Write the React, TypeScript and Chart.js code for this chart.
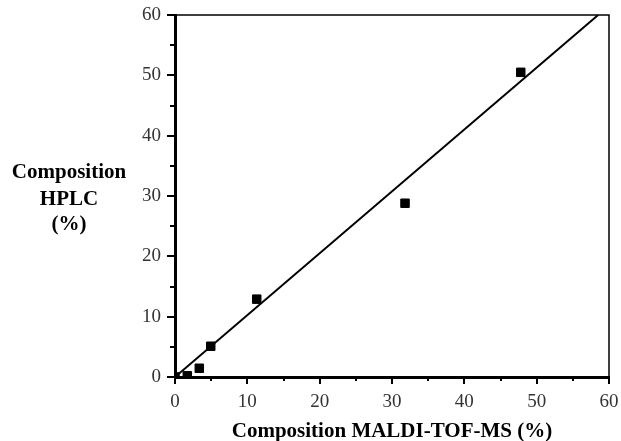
import React, { useEffect, useRef } from "react";
import { Chart, registerables } from "chart.js";

Chart.register(...registerables);

const maldiX = [0, 1.7, 3.36, 4.94, 11.3, 31.8, 47.8];
const hplcY = [0, 0.2, 1.45, 5.1, 12.9, 28.8, 50.5];
const fitX = [0, 58.5];
const fitY = [0, 60];
const yTitleLines = ["Composition", "HPLC", "(%)"];
const xTitle = "Composition MALDI-TOF-MS (%)";
const minorTicks = [5, 15, 25, 35, 45, 55];

const SERIF = '"Liberation Serif", "Times New Roman", serif';

const decorPlugin = {
  id: "decor",
  afterDraw(chart: any) {
    const { ctx, chartArea } = chart;
    const xs = chart.scales.x;
    const ys = chart.scales.y;
    ctx.save();
    ctx.strokeStyle = "#000";
    // top and right border
    ctx.lineWidth = 1.5;
    ctx.beginPath();
    ctx.moveTo(chartArea.left, chartArea.top);
    ctx.lineTo(chartArea.right, chartArea.top);
    ctx.lineTo(chartArea.right, chartArea.bottom);
    ctx.stroke();
    // minor ticks
    ctx.lineWidth = 2;
    ctx.beginPath();
    for (const v of minorTicks) {
      const py = Math.round(ys.getPixelForValue(v));
      ctx.moveTo(chartArea.left, py);
      ctx.lineTo(chartArea.left - 5, py);
      const px = Math.round(xs.getPixelForValue(v));
      ctx.moveTo(px, chartArea.bottom);
      ctx.lineTo(px, chartArea.bottom + 4);
    }
    ctx.stroke();
    // titles
    ctx.fillStyle = "#000";
    ctx.font = `bold 21px ${SERIF}`;
    ctx.textAlign = "center";
    ctx.textBaseline = "alphabetic";
    const baselines = [178, 205, 230];
    yTitleLines.forEach((t, i) => ctx.fillText(t, 69, baselines[i]));
    ctx.fillText(xTitle, (chartArea.left + chartArea.right) / 2, 437);
    ctx.restore();
  },
};

export default function App() {
  const ref = useRef<HTMLCanvasElement>(null);
  useEffect(() => {
    if (!ref.current) return;
    const chart = new Chart(ref.current, {
      type: "scatter",
      data: {
        datasets: [
          {
            type: "line",
            data: fitX.map((x, i) => ({ x, y: fitY[i] })),
            borderColor: "#000",
            borderWidth: 2,
            pointRadius: 0,
            fill: false,
          } as any,
          {
            data: maldiX.map((x, i) => ({ x, y: hplcY[i] })),
            pointStyle: "rect",
            pointRadius: 6,
            pointBorderWidth: 1,
            backgroundColor: "#000",
            borderColor: "#000",
          },
        ],
      },
      options: {
        animation: false,
        responsive: false,
        layout: { padding: { left: 0, right: 12, top: 15, bottom: 0 } },
        plugins: { legend: { display: false }, tooltip: { enabled: false } },
        scales: {
          x: {
            type: "linear",
            min: 0,
            max: 60,
            afterFit: (s: any) => {
              s.height = 64;
              s.paddingRight = 0;
              s.paddingLeft = 0;
            },
            ticks: {
              stepSize: 10,
              color: "#333",
              padding: 7,
              font: { family: SERIF, size: 19 },
            },
            grid: {
              drawOnChartArea: false,
              drawTicks: true,
              tickLength: 7,
              color: "#000",
              lineWidth: 2,
            },
            border: { display: true, color: "#000", width: 3 },
          },
          y: {
            type: "linear",
            min: 0,
            max: 60,
            afterFit: (s: any) => {
              s.width = 175;
              s.paddingTop = 0;
              s.paddingBottom = 0;
            },
            ticks: {
              stepSize: 10,
              color: "#333",
              padding: 6,
              font: { family: SERIF, size: 19 },
            },
            grid: {
              drawOnChartArea: false,
              drawTicks: true,
              tickLength: 8,
              color: "#000",
              lineWidth: 2,
            },
            border: { display: true, color: "#000", width: 3 },
          },
        },
      },
      plugins: [decorPlugin],
    });
    return () => chart.destroy();
  }, []);
  return (
    <div style={{ position: "fixed", left: 0, top: 0, width: 621, height: 441, background: "#fff" }}>
      <canvas ref={ref} width={621} height={441} style={{ width: 621, height: 441, display: "block" }} />
    </div>
  );
}
